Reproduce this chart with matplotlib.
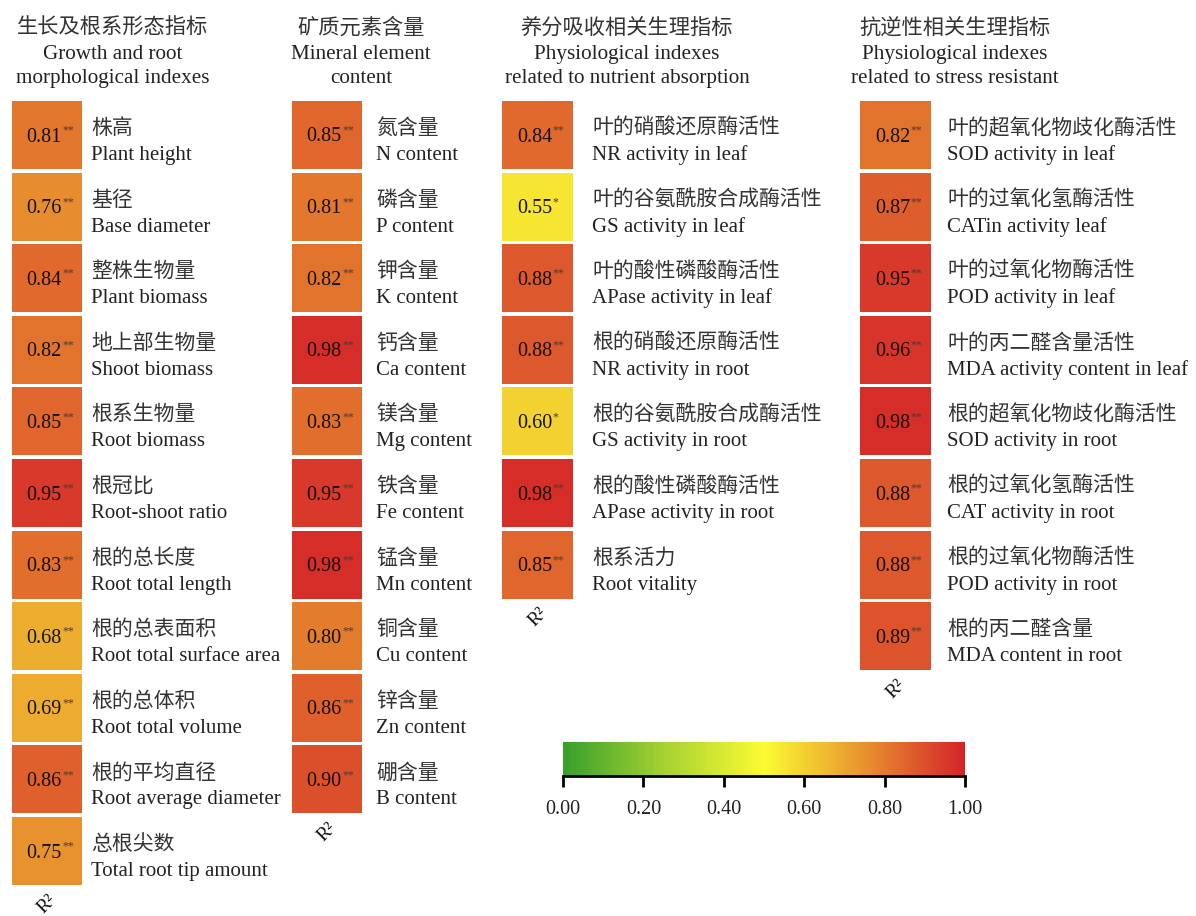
import matplotlib
matplotlib.use("Agg")
import matplotlib.pyplot as plt
import numpy as np
from matplotlib.colors import LinearSegmentedColormap, Normalize

# ---------------- data ----------------
col1_cn = ["株高", "基径", "整株生物量", "地上部生物量", "根系生物量", "根冠比",
           "根的总长度", "根的总表面积", "根的总体积", "根的平均直径", "总根尖数"]
col1_en = ["Plant height", "Base diameter", "Plant biomass", "Shoot biomass", "Root biomass",
           "Root-shoot ratio", "Root total length", "Root total surface area",
           "Root total volume", "Root average diameter", "Total root tip amount"]
col1_val = [0.81, 0.76, 0.84, 0.82, 0.85, 0.95, 0.83, 0.68, 0.69, 0.86, 0.75]
col1_sig = ["**"] * 11

col2_cn = ["氮含量", "磷含量", "钾含量", "钙含量", "镁含量", "铁含量", "锰含量", "铜含量", "锌含量", "硼含量"]
col2_en = ["N content", "P content", "K content", "Ca content", "Mg content", "Fe content",
           "Mn content", "Cu content", "Zn content", "B content"]
col2_val = [0.85, 0.81, 0.82, 0.98, 0.83, 0.95, 0.98, 0.80, 0.86, 0.90]
col2_sig = ["**"] * 10

col3_cn = ["叶的硝酸还原酶活性", "叶的谷氨酰胺合成酶活性", "叶的酸性磷酸酶活性", "根的硝酸还原酶活性",
           "根的谷氨酰胺合成酶活性", "根的酸性磷酸酶活性", "根系活力"]
col3_en = ["NR activity in leaf", "GS activity in leaf", "APase activity in leaf", "NR activity in root",
           "GS activity in root", "APase activity in root", "Root vitality"]
col3_val = [0.84, 0.55, 0.88, 0.88, 0.60, 0.98, 0.85]
col3_sig = ["**", "*", "**", "**", "*", "**", "**"]

col4_cn = ["叶的超氧化物歧化酶活性", "叶的过氧化氢酶活性", "叶的过氧化物酶活性", "叶的丙二醛含量活性",
           "根的超氧化物歧化酶活性", "根的过氧化氢酶活性", "根的过氧化物酶活性", "根的丙二醛含量"]
col4_en = ["SOD activity in leaf", "CATin activity leaf", "POD activity in leaf",
           "MDA activity content in leaf", "SOD activity in root", "CAT activity in root",
           "POD activity in root", "MDA content in root"]
col4_val = [0.82, 0.87, 0.95, 0.96, 0.98, 0.88, 0.88, 0.89]
col4_sig = ["**"] * 8

headers_cn = ["生长及根系形态指标", "矿质元素含量", "养分吸收相关生理指标", "抗逆性相关生理指标"]
headers_en = [["Growth and root", "morphological indexes"],
              ["Mineral element", "content"],
              ["Physiological indexes", "related to nutrient absorption"],
              ["Physiological indexes", "related to stress resistant"]]

cbar_ticks = [0.0, 0.2, 0.4, 0.6, 0.8, 1.0]

# ---------------- style ----------------
EN = "Liberation Serif"
CN = ["Noto Sans CJK SC", "DejaVu Sans"]
TXT = "#222222"

cmap = LinearSegmentedColormap.from_list(
    "gyr", [(0.0, "#38a02c"), (0.25, "#a6d132"), (0.5, "#fbfb32"),
            (0.75, "#e8922f"), (1.0, "#d42429")])
norm = Normalize(0, 1)

W, H = 1196, 916
fig = plt.figure(figsize=(W / 100, H / 100), dpi=100)

pitch = 71.6
top0 = 99.2
# left px, width px, label offset px, header centre px
cols = [
    (12, 70, 9, col1_cn, col1_en, col1_val, col1_sig, 113),
    (292, 70, 14.5, col2_cn, col2_en, col2_val, col2_sig, 361),
    (502, 71, 19, col3_cn, col3_en, col3_val, col3_sig, 627),
    (860, 71, 16, col4_cn, col4_en, col4_val, col4_sig, 955),
]


def fx(px):
    return px / W


def fy(py):
    return 1 - py / H


for ci, (left, width, loff, cn, en, vals, sigs, hx) in enumerate(cols):
    n = len(vals)
    hgt = n * pitch
    ax = fig.add_axes([fx(left), fy(top0 + hgt), width / W, hgt / H])
    ax.set_xlim(0, 1)
    ax.set_ylim(n, 0)
    ax.axis("off")
    ypos = np.arange(n) + 0.5
    ax.barh(ypos, [1] * n, height=0.95, left=0, color=[cmap(norm(v)) for v in vals])
    px_y = n / hgt  # data units per pixel
    for i, (v, s, c, e) in enumerate(zip(vals, sigs, cn, en)):
        yc = ypos[i]
        ax.text(0.71, yc + 2 * px_y, f"{v:.2f}", ha="right", va="center",
                fontsize=14.5, family=EN, color="#111111")
        ax.text(0.715, yc - 4.5 * px_y, s, ha="left", va="center",
                fontsize=8.5, family=EN, color="#4a3a36")
        lx = 1 + loff / width
        ax.text(lx, yc - 7 * px_y, c, ha="left", va="center", fontsize=15,
                family=CN, fontweight="light", color="#333333", clip_on=False)
        ax.text(lx, yc + 25 * px_y, e, ha="left", va="baseline", fontsize=15,
                family=EN, color=TXT, clip_on=False)
    # R^2 label
    ax.text(0.5, n + 17 * px_y, "R²", rotation=45, ha="center", va="center",
            fontsize=14, family=EN, color="#111111", clip_on=False)
    # headers
    fig.text(fx(hx), fy(28), headers_cn[ci], ha="center", va="center",
             fontsize=15.3, family=CN, fontweight="light", color="#333333")
    fig.text(fx(hx), fy(58.7), headers_en[ci][0], ha="center", va="baseline",
             fontsize=15.2, family=EN, color=TXT)
    fig.text(fx(hx), fy(82.7), headers_en[ci][1], ha="center", va="baseline",
             fontsize=15.2, family=EN, color=TXT)

# colorbar
cax = fig.add_axes([fx(563), fy(776), 402 / W, 34 / H])
sm = matplotlib.cm.ScalarMappable(norm=norm, cmap=cmap)
cb = fig.colorbar(sm, cax=cax, orientation="horizontal", ticks=cbar_ticks)
cb.outline.set_visible(False)
cax.spines["bottom"].set_visible(True)
cax.spines["bottom"].set_linewidth(2)
cax.tick_params(axis="x", length=8, width=2, pad=9, labelsize=14.5)
cax.set_xticklabels([f"{t:.2f}" for t in cbar_ticks], family=EN, color=TXT)

fig.savefig("out.png", dpi=100)
